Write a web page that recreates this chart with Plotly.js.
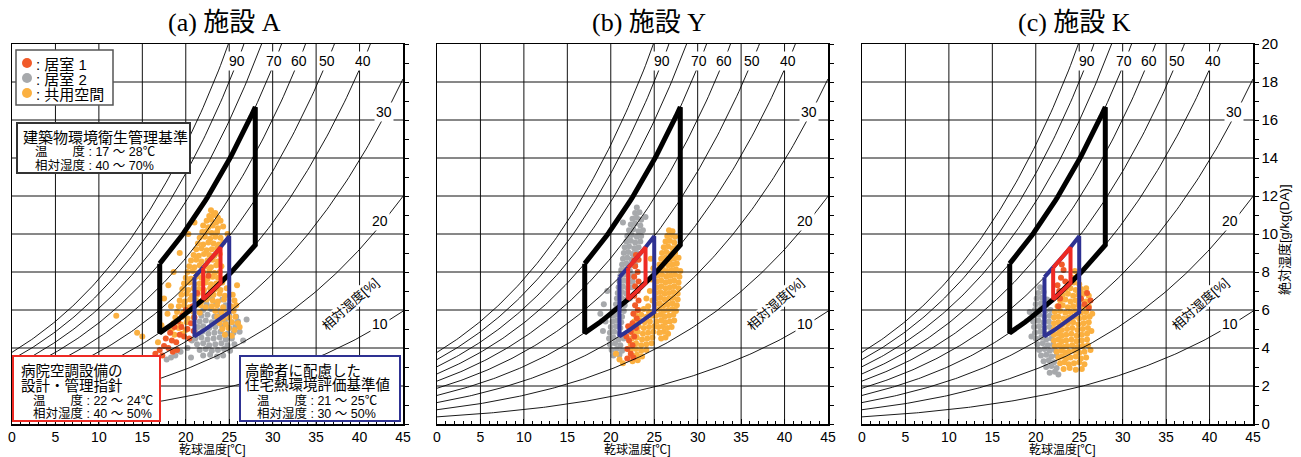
<!DOCTYPE html>
<html><head><meta charset="utf-8">
<script src="https://cdn.plot.ly/plotly-3.0.1.min.js"></script>
<style>body{margin:0;background:#fff}#chart{width:1301px;height:457px}</style>
</head><body><div id="chart"></div>
<script>
// ---------- data ----------
const panelTitles = ['(a) 施設 A', '(b) 施設 Y', '(c) 施設 K'];
const seriesNames = ['居室 1', '居室 2', '共用空間'];
const seriesColors = ['#F15A29', '#A7A9AC', '#FBB040'];
const xTitle = '乾球温度[℃]';
const yTitle = '絶対湿度[g/kg(DA)]';
const rhLevels = [10, 20, 30, 40, 50, 60, 70, 80, 90, 100];
const rhLabels = ['90', '70', '60', '50', '40', '30', '20', '10'];
const rhLabelT = [25.9, 30.1, 33.0, 36.3, 40.4, 42.8, 42.3, 42.3];
const rhLabelW = [19.1, 19.1, 19.1, 19.1, 19.1, 16.4, 10.7, 5.25];
const rhAxisLabel = '相対湿度[%]';
const gridT = [5, 10, 15, 20, 25, 30, 35, 40];
const gridW = [2, 4, 6, 8, 10, 12, 14, 16, 18];

// standards: [Tmin, Tmax, RHmin, RHmax]
const stdNames = ['建築物環境衛生管理基準', '高齢者に配慮した住宅熱環境評価基準値', '病院空調設備の設計・管理指針'];
const stdTmin = [17, 21, 22];
const stdTmax = [28, 25, 24];
const stdRHmin = [40, 30, 40];
const stdRHmax = [70, 50, 50];
const stdColors = ['#000000', '#2E3192', '#EE2A24'];
const stdWidths = [5, 4, 4];

// measured points [T(℃), W(g/kg)]
const aRoom1 = [[17.0,3.9],[17.5,4.1],[18.0,4.0],[18.4,4.4],[18.9,4.3],[19.3,4.7],[19.8,4.6],[20.2,5.0],[20.6,5.3],[18.2,4.8],[18.7,5.1],[19.1,5.4],[19.6,5.7],[20.0,6.0],[17.7,4.5],[19.5,5.1],[20.4,4.5],[21.0,5.6],[16.5,3.7],[20.8,6.2],[19.0,3.9],[17.3,3.6],[18.5,3.8],[20.9,4.9],[21.3,6.9],[22.6,7.8]];
const aRoom2 = [[23.0,6.6],[24.2,6.55],[22.4,6.3],[23.5,6.35],[24.6,6.25],[22.0,6.0],[22.9,6.05],[23.8,5.95],[24.7,6.0],[25.5,6.05],[21.8,5.7],[22.5,5.75],[23.3,5.65],[24.1,5.7],[25.0,5.75],[25.8,5.65],[21.6,5.4],[22.3,5.45],[23.0,5.35],[23.7,5.4],[24.5,5.45],[25.3,5.35],[26.0,5.4],[21.4,5.1],[22.0,5.15],[22.7,5.05],[23.4,5.1],[24.2,5.15],[25.0,5.05],[25.7,5.1],[21.2,4.8],[21.9,4.85],[22.6,4.75],[23.3,4.8],[24.0,4.85],[24.8,4.75],[25.5,4.8],[26.2,4.85],[21.1,4.5],[21.8,4.55],[22.5,4.45],[23.2,4.5],[23.9,4.55],[24.6,4.45],[25.3,4.5],[21.3,4.2],[22.0,4.25],[22.7,4.15],[23.4,4.2],[24.1,4.25],[24.8,4.15],[25.6,4.2],[21.6,3.9],[22.3,3.95],[23.0,3.85],[23.7,3.9],[24.4,3.95],[25.1,3.85],[22.0,3.6],[22.8,3.65],[23.6,3.55],[24.3,3.6],[17.8,3.4],[18.3,3.5],[18.8,3.6],[19.4,3.8],[20.2,4.0],[26.6,4.4],[20.6,3.5],[27.0,5.5],[20.7,4.4]];
const aCommon = [[22.9,11.25],[23.4,11.1],[22.7,10.95],[23.2,11.0],[23.7,10.85],[22.4,10.7],[22.9,10.75],[23.5,10.6],[24.0,10.7],[22.0,10.45],[22.6,10.35],[23.1,10.45],[23.7,10.3],[24.3,10.4],[21.9,10.1],[22.4,10.15],[23.0,10.05],[23.6,10.1],[21.6,9.8],[22.2,9.85],[22.8,9.75],[23.4,9.85],[24.0,9.8],[21.4,9.5],[22.0,9.45],[22.6,9.55],[23.2,9.5],[23.8,9.45],[24.3,9.55],[21.2,9.2],[21.8,9.25],[22.4,9.15],[23.0,9.2],[23.6,9.25],[20.9,8.9],[21.5,8.85],[22.1,8.95],[22.7,8.9],[23.3,8.85],[23.9,8.95],[20.6,8.6],[21.2,8.65],[21.8,8.55],[22.5,8.6],[23.1,8.65],[23.7,8.55],[20.4,8.3],[21.0,8.25],[21.6,8.35],[22.3,8.3],[22.9,8.25],[23.5,8.35],[24.1,8.3],[20.2,8.0],[20.8,8.05],[21.4,7.95],[22.0,8.0],[22.7,8.05],[23.3,7.95],[23.9,8.0],[20.0,7.7],[20.6,7.65],[21.2,7.75],[21.8,7.7],[22.5,7.65],[23.1,7.75],[23.7,7.7],[24.4,7.65],[19.8,7.4],[20.4,7.45],[21.0,7.35],[21.6,7.4],[22.3,7.45],[22.9,7.35],[23.5,7.4],[24.2,7.45],[19.6,7.1],[20.3,7.05],[20.9,7.15],[21.5,7.1],[22.1,7.05],[22.8,7.15],[23.4,7.1],[24.0,7.05],[24.7,7.15],[19.5,6.8],[20.1,6.85],[20.7,6.75],[21.3,6.8],[22.0,6.85],[22.6,6.75],[23.2,6.8],[23.9,6.85],[24.5,6.75],[25.4,6.8],[19.3,6.5],[19.9,6.45],[20.5,6.55],[21.2,6.5],[21.8,6.45],[22.4,6.55],[23.1,6.5],[23.7,6.45],[24.4,6.55],[25.6,6.5],[19.2,6.2],[19.8,6.25],[20.4,6.15],[21.0,6.2],[21.7,6.25],[22.3,6.15],[23.0,6.2],[23.6,6.25],[24.3,6.15],[25.2,6.2],[25.8,6.25],[19.0,5.9],[19.7,5.85],[20.3,5.95],[20.9,5.9],[21.6,5.85],[23.4,5.95],[24.1,5.9],[24.8,5.85],[25.5,5.95],[18.8,5.6],[19.6,5.65],[20.2,5.55],[20.9,5.6],[23.6,5.65],[24.3,5.55],[25.0,5.6],[25.7,5.65],[18.6,5.3],[19.4,5.25],[20.1,5.35],[23.9,5.3],[24.6,5.25],[25.3,5.35],[26.0,5.3],[18.4,5.0],[19.2,5.05],[20.0,4.95],[24.2,5.0],[24.9,5.05],[25.6,4.95],[18.7,4.7],[19.6,4.75],[24.5,4.7],[25.3,4.65],[15.0,4.6],[14.4,4.8],[12.0,5.7],[17.5,6.6],[18.0,7.3],[18.6,8.0],[19.3,9.0],[20.3,10.0],[21.0,10.6],[24.8,10.0],[25.9,7.3],[26.2,5.1],[16.8,4.3],[17.2,5.2],[17.9,5.8],[18.3,6.2]];

const bRoom1 = [[22.9,8.9],[22.7,8.6],[23.2,8.65],[22.8,8.3],[23.1,8.0],[22.7,7.75],[23.2,7.5],[22.8,7.25],[23.1,7.0],[22.7,6.75],[23.2,6.5],[22.8,6.25],[23.1,6.0],[22.6,5.8],[23.0,5.55],[22.5,5.3],[22.9,5.05],[22.3,4.85],[22.7,4.6],[22.1,4.4],[22.5,4.15],[21.9,3.95],[22.3,3.7],[21.9,3.45],[22.6,3.5],[21.8,4.6],[22.0,5.15]];
const bRoom2 = [[23.0,11.4],[22.8,11.1],[23.3,11.15],[22.5,10.8],[23.0,10.85],[23.5,10.75],[22.3,10.5],[22.8,10.55],[23.4,10.45],[22.1,10.2],[22.6,10.25],[23.2,10.15],[23.7,10.2],[21.9,9.9],[22.4,9.95],[23.0,9.85],[23.5,9.9],[21.8,9.6],[22.3,9.65],[22.8,9.55],[23.4,9.6],[21.6,9.3],[22.1,9.35],[22.7,9.25],[23.2,9.3],[21.5,9.0],[22.0,9.05],[22.5,8.95],[23.0,9.0],[21.4,8.7],[21.9,8.75],[22.4,8.65],[22.9,8.7],[21.3,8.4],[21.8,8.45],[22.3,8.35],[22.8,8.4],[21.2,8.1],[21.7,8.15],[22.2,8.05],[21.1,7.8],[21.6,7.85],[22.1,7.75],[22.6,7.8],[21.0,7.5],[21.5,7.55],[22.0,7.45],[22.5,7.5],[20.9,7.2],[21.4,7.25],[21.9,7.15],[22.4,7.2],[20.8,6.9],[21.3,6.95],[21.8,6.85],[20.7,6.6],[21.2,6.65],[21.7,6.55],[22.2,6.6],[20.6,6.3],[21.1,6.35],[21.6,6.25],[20.5,6.0],[21.0,6.05],[21.5,5.95],[20.3,5.7],[20.8,5.75],[21.3,5.65],[20.2,5.4],[20.7,5.45],[21.2,5.35],[20.0,5.1],[20.6,5.15],[21.1,5.05],[19.9,4.8],[20.4,4.85],[21.0,4.75],[19.8,4.5],[20.3,4.55],[20.9,4.45],[21.5,4.5],[19.9,4.2],[20.5,4.25],[21.1,4.15],[20.1,3.9],[20.7,3.95],[21.3,3.85],[20.3,3.6],[21.0,3.65],[19.2,6.3],[19.4,5.4],[19.1,4.9],[18.8,5.8],[19.6,7.0],[24.0,10.9],[21.4,10.6]];
const bCommon = [[26.7,10.2],[27.1,10.15],[26.5,9.9],[27.0,9.95],[27.4,9.85],[26.3,9.6],[26.8,9.65],[27.3,9.55],[26.1,9.3],[26.6,9.35],[27.1,9.25],[27.6,9.3],[25.9,9.0],[26.4,9.05],[26.9,8.95],[27.4,9.0],[25.8,8.7],[26.3,8.75],[26.8,8.65],[27.3,8.7],[27.8,8.75],[25.6,8.4],[26.1,8.45],[26.6,8.35],[27.1,8.4],[27.6,8.45],[25.5,8.1],[26.0,8.15],[26.5,8.05],[27.0,8.1],[27.5,8.15],[28.0,8.05],[25.4,7.8],[25.9,7.85],[26.4,7.75],[26.9,7.8],[27.4,7.85],[27.9,7.75],[25.3,7.5],[25.8,7.55],[26.3,7.45],[26.8,7.5],[27.3,7.55],[27.8,7.45],[25.3,7.2],[25.8,7.25],[26.3,7.15],[26.8,7.2],[27.3,7.25],[27.8,7.15],[25.2,6.9],[25.7,6.95],[26.2,6.85],[26.7,6.9],[27.2,6.95],[27.7,6.85],[25.2,6.6],[25.7,6.65],[26.2,6.55],[26.7,6.6],[27.2,6.65],[27.7,6.55],[25.1,6.3],[25.6,6.35],[26.1,6.25],[26.6,6.3],[27.1,6.35],[27.6,6.25],[25.1,6.0],[25.6,6.05],[26.1,5.95],[26.6,6.0],[27.1,6.05],[27.5,5.95],[25.2,5.7],[25.7,5.75],[26.2,5.65],[26.7,5.7],[27.2,5.75],[25.3,5.4],[25.8,5.45],[26.3,5.35],[26.8,5.4],[27.3,5.45],[25.5,5.1],[26.0,5.15],[26.5,5.05],[27.0,5.1],[25.6,4.8],[26.1,4.85],[26.6,4.75],[25.8,4.5],[26.3,4.55],[23.2,6.0],[23.8,6.05],[22.9,5.7],[23.5,5.75],[24.1,5.65],[24.7,5.7],[22.7,5.4],[23.3,5.45],[23.9,5.35],[24.5,5.4],[22.6,5.1],[23.2,5.15],[23.8,5.05],[24.4,5.1],[25.0,5.15],[22.5,4.8],[23.1,4.85],[23.7,4.75],[24.3,4.8],[24.9,4.85],[22.4,4.5],[23.0,4.55],[23.6,4.45],[24.2,4.5],[24.8,4.55],[22.3,4.2],[22.9,4.25],[23.5,4.15],[24.1,4.2],[24.7,4.25],[22.3,3.9],[22.9,3.95],[23.5,3.85],[24.1,3.9],[22.4,3.6],[23.0,3.65],[23.6,3.55],[22.5,3.3],[23.1,3.35],[21.0,3.4],[21.4,3.2],[20.6,3.7],[24.5,7.0],[24.8,6.5],[24.3,6.2],[24.7,7.6],[24.4,5.9],[24.1,6.6],[24.9,8.2],[24.6,8.7]];

const cRoom1 = [[22.5,7.3],[22.9,7.7],[23.2,8.1],[22.7,7.0],[23.4,7.5],[22.8,6.6],[25.2,6.6],[25.6,6.3],[25.9,6.9],[26.1,6.1],[23.0,8.4],[22.6,6.2],[26.3,6.5]];
const cRoom2 = [[20.5,7.2],[20.3,6.9],[20.9,6.95],[20.1,6.6],[20.7,6.65],[21.3,6.55],[20.0,6.3],[20.6,6.35],[21.2,6.25],[19.9,6.0],[20.5,6.05],[21.1,5.95],[21.7,6.0],[19.8,5.7],[20.4,5.75],[21.0,5.65],[21.6,5.7],[19.7,5.4],[20.3,5.45],[20.9,5.35],[21.5,5.4],[19.8,5.1],[20.4,5.15],[21.0,5.05],[21.6,5.1],[19.9,4.8],[20.5,4.85],[21.1,4.75],[21.7,4.8],[20.0,4.5],[20.6,4.55],[21.2,4.45],[21.8,4.5],[20.2,4.2],[20.8,4.25],[21.4,4.15],[22.0,4.2],[20.4,3.9],[21.0,3.95],[21.6,3.85],[22.2,3.9],[20.6,3.6],[21.2,3.65],[21.8,3.55],[22.4,3.6],[20.9,3.3],[21.5,3.35],[22.1,3.25],[21.2,3.0],[21.8,3.05],[22.4,2.95],[21.6,2.7],[22.2,2.75],[19.3,5.9],[19.5,4.6],[22.6,2.6]];
const cCommon = [[24.5,8.05],[24.2,7.7],[24.8,7.75],[23.8,7.4],[24.4,7.45],[25.0,7.35],[23.4,7.1],[24.0,7.15],[24.6,7.05],[25.2,7.1],[25.8,7.15],[23.1,6.8],[23.7,6.85],[24.3,6.75],[24.9,6.8],[25.5,6.85],[26.1,6.75],[22.8,6.5],[23.4,6.55],[24.0,6.45],[24.6,6.5],[25.2,6.55],[25.8,6.45],[22.5,6.2],[23.1,6.25],[23.7,6.15],[24.3,6.2],[24.9,6.25],[25.5,6.15],[26.1,6.2],[22.2,5.9],[22.8,5.95],[23.4,5.85],[24.0,5.9],[24.6,5.95],[25.2,5.85],[25.8,5.9],[22.1,5.6],[22.6,5.65],[23.2,5.55],[23.8,5.6],[24.4,5.65],[25.0,5.55],[25.6,5.6],[26.2,5.65],[22.1,5.3],[22.6,5.35],[23.1,5.25],[23.7,5.3],[24.3,5.35],[24.9,5.25],[25.5,5.3],[26.1,5.35],[22.1,5.0],[22.6,5.05],[23.0,4.95],[23.6,5.0],[24.2,5.05],[24.8,4.95],[25.4,5.0],[26.0,5.05],[22.1,4.7],[22.6,4.75],[23.0,4.65],[23.5,4.7],[24.1,4.75],[24.7,4.65],[25.3,4.7],[25.9,4.75],[22.1,4.4],[22.6,4.45],[23.0,4.35],[23.5,4.4],[24.1,4.45],[24.7,4.35],[25.3,4.4],[25.9,4.45],[22.2,4.1],[22.7,4.15],[23.2,4.05],[23.6,4.1],[24.2,4.15],[24.8,4.05],[25.4,4.1],[26.0,4.15],[22.4,3.8],[22.9,3.85],[23.4,3.75],[23.8,3.8],[24.4,3.85],[25.0,3.75],[25.6,3.8],[22.6,3.5],[23.0,3.55],[23.5,3.45],[24.0,3.5],[24.6,3.55],[25.2,3.45],[25.8,3.5],[22.8,3.2],[23.3,3.25],[23.8,3.15],[24.4,3.2],[25.0,3.25],[25.6,3.15],[23.2,2.9],[23.9,2.95],[24.6,2.85],[25.3,2.9],[26.5,5.8],[26.4,4.9],[26.3,3.9]];

// per panel: [居室1, 居室2, 共用空間]
const panelData = [[aRoom1, aRoom2, aCommon], [bRoom1, bRoom2, bCommon], [cRoom1, cRoom2, cCommon]];
// draw order of series within each panel (indices into seriesNames)
const drawOrder = [1, 2, 0];

// ---------- psychrometric conversion (RH, T) -> absolute humidity ----------
const P_ATM = 101.325;
function absHum(T, rh) {
  const ps = 0.61078 * Math.exp(17.27 * T / (T + 237.3));
  const pw = rh / 100 * ps;
  return 622 * pw / (P_ATM - pw);
}
function tempSamples(t0, t1, step) { const a = []; for (let t = t0; t <= t1 + 1e-9; t += step) a.push(+t.toFixed(3)); return a; }
const curveT = tempSamples(0, 45, 0.25);

// ---------- layout geometry (pixels) ----------
const W_PX = 1301, H_PX = 457;
const panelLeft = [12, 437, 862], panelWidth = 391;
const plotTop = 44, plotBottom = 424;
const px = x => x / W_PX, py = y => 1 - y / H_PX;

const traces = [];
const cjk = 'Liberation Sans, Arial, Noto Sans CJK JP, sans-serif';
const layout = {
  width: W_PX, height: H_PX, margin: {l: 0, r: 0, t: 0, b: 0},
  paper_bgcolor: '#fff', plot_bgcolor: '#fff', showlegend: false,
  font: {family: cjk, color: '#000'},
  shapes: [], annotations: []
};
function paperNote(x, y, text, opts) {
  return Object.assign({xref: 'paper', yref: 'paper', x: px(x), y: py(y), text: text, showarrow: false,
    xanchor: 'center', yanchor: 'middle'}, opts);
}

for (let p = 0; p < 3; p++) {
  const s = p === 0 ? '' : String(p + 1);
  const xa = 'x' + s, ya = 'y' + s;
  layout['xaxis' + s] = {
    domain: [px(panelLeft[p]), px(panelLeft[p] + panelWidth)], range: [0, 45], anchor: ya,
    tick0: 0, dtick: 5, showgrid: false, zeroline: false, showline: true, mirror: true,
    linecolor: '#000', linewidth: 1.5, ticks: 'inside', ticklen: 5, tickcolor: '#000', tickwidth: 1,
    minor: {dtick: 1, ticks: 'inside', ticklen: 3, tickcolor: '#000', showgrid: false},
    tickfont: {size: 14, color: '#000'}, fixedrange: true
  };
  layout['yaxis' + s] = {
    domain: [py(plotBottom), py(plotTop)], range: [0, 20], anchor: xa, side: 'right',
    tick0: 0, dtick: 2, showgrid: false, zeroline: false, showline: true, mirror: true,
    linecolor: '#000', linewidth: 1.5, ticks: 'outside', ticklen: 4, tickcolor: '#000',
    minor: {dtick: 1, ticks: 'outside', ticklen: 4, tickcolor: '#000', showgrid: false},
    showticklabels: p === 2, tickfont: {size: 15, color: '#000'}, fixedrange: true
  };

  // measured points
  drawOrder.forEach(k => {
    const pts = panelData[p][k];
    traces.push({
      type: 'scatter', mode: 'markers', xaxis: xa, yaxis: ya, name: seriesNames[k],
      x: pts.map(d => d[0]), y: pts.map(d => d[1]),
      marker: {color: seriesColors[k], size: 6, line: {width: 0}}, hoverinfo: 'skip'
    });
  });

  // grid lines (drawn over the points, as in the reference)
  const gx = [], gy = [];
  gridT.forEach(t => { gx.push(t, t, null); gy.push(0, 20, null); });
  traces.push({type: 'scatter', mode: 'lines', xaxis: xa, yaxis: ya, x: gx, y: gy,
    line: {color: '#111', width: 1}, hoverinfo: 'skip'});
  const hx = [], hy = [];
  gridW.forEach(w => { hx.push(0, 45, null); hy.push(w, w, null); });
  traces.push({type: 'scatter', mode: 'lines', xaxis: xa, yaxis: ya, x: hx, y: hy,
    line: {color: '#111', width: 1}, hoverinfo: 'skip'});

  // relative-humidity curves
  rhLevels.forEach(rh => {
    traces.push({type: 'scatter', mode: 'lines', xaxis: xa, yaxis: ya,
      x: curveT, y: curveT.map(T => absHum(T, rh)),
      line: {color: '#000', width: 0.9}, hoverinfo: 'skip'});
  });

  // standard ranges
  stdNames.forEach((nm, i) => {
    const top = tempSamples(stdTmin[i], stdTmax[i], 0.25);
    const bot = top.slice().reverse();
    const xs = top.concat(bot, [top[0]]);
    const ys = top.map(T => absHum(T, stdRHmax[i])).concat(bot.map(T => absHum(T, stdRHmin[i])), [absHum(top[0], stdRHmax[i])]);
    traces.push({type: 'scatter', mode: 'lines', xaxis: xa, yaxis: ya, name: nm, x: xs, y: ys,
      line: {color: stdColors[i], width: stdWidths[i]}, hoverinfo: 'skip'});
  });

  // RH labels
  rhLabels.forEach((lb, i) => {
    layout.annotations.push({xref: xa, yref: ya, x: rhLabelT[i], y: rhLabelW[i], text: lb,
      xanchor: 'center', yanchor: 'middle',
      showarrow: false, bgcolor: '#fff', borderpad: 1, font: {size: 14, color: '#000', family: cjk}});
  });
  layout.annotations.push({xref: xa, yref: ya, x: 38.9, y: 6.3, text: rhAxisLabel, textangle: -42,
    xanchor: 'center', yanchor: 'middle',
    showarrow: false, bgcolor: '#fff', borderpad: 0, font: {size: 13, color: '#000', family: cjk}});

  // panel title and x title
  layout.annotations.push(paperNote(panelLeft[p] + 212, 22, panelTitles[p],
    {font: {size: 26, color: '#000', family: 'Liberation Serif, Times New Roman, Noto Sans CJK JP, serif'}}));
  layout.annotations.push(paperNote(panelLeft[p] + 200, 449, xTitle, {font: {size: 12, color: '#000', family: cjk}}));
}

// right y-axis title
layout.annotations.push(paperNote(1285, 240, yTitle, {textangle: -90, font: {size: 13, color: '#000', family: cjk}}));

// legend (panel a)
layout.shapes.push({type: 'rect', xref: 'paper', yref: 'paper', x0: px(16), x1: px(113), y0: py(105), y1: py(50),
  fillcolor: '#fff', line: {color: '#555', width: 1.5}, layer: 'above'});
seriesNames.forEach((nm, k) => {
  const cy = 63 + 15 * k;
  layout.shapes.push({type: 'circle', xref: 'paper', yref: 'paper', x0: px(22), x1: px(32), y0: py(cy + 5), y1: py(cy - 5),
    fillcolor: seriesColors[k], line: {width: 0}, layer: 'above'});
  layout.annotations.push(paperNote(34, cy + 1, ': ' + nm,
    {xanchor: 'left', font: {size: 15, color: '#000', family: cjk}}));
});

// explanation boxes
const boxes = [
  {x0: 17, x1: 190, y0: 123, y1: 173, color: '#333', lines: [
    {t: stdNames[0], x: 21, y: 137, s: 15},
    {t: '温　　度 : ' + stdTmin[0] + ' ～ ' + stdTmax[0] + '℃', x: 33, y: 151, s: 12.5},
    {t: '相対湿度 : ' + stdRHmin[0] + ' ～ ' + stdRHmax[0] + '%', x: 33, y: 165, s: 12.5}]},
  {x0: 13, x1: 160, y0: 356, y1: 421, color: stdColors[2], lines: [
    {t: '病院空調設備の', x: 19, y: 371, s: 14.5},
    {t: '設計・管理指針', x: 19, y: 385, s: 14.5},
    {t: '温　　度 : ' + stdTmin[2] + ' ～ ' + stdTmax[2] + '℃', x: 31, y: 400, s: 12.5},
    {t: '相対湿度 : ' + stdRHmin[2] + ' ～ ' + stdRHmax[2] + '%', x: 31, y: 413, s: 12.5}]},
  {x0: 240, x1: 400, y0: 356, y1: 421, color: stdColors[1], lines: [
    {t: '高齢者に配慮した', x: 243, y: 371, s: 14.5},
    {t: '住宅熱環境評価基準値', x: 243, y: 385, s: 14.5},
    {t: '温　　度 : ' + stdTmin[1] + ' ～ ' + stdTmax[1] + '℃', x: 255, y: 400, s: 12.5},
    {t: '相対湿度 : ' + stdRHmin[1] + ' ～ ' + stdRHmax[1] + '%', x: 255, y: 413, s: 12.5}]}
];
boxes.forEach(b => {
  layout.shapes.push({type: 'rect', xref: 'paper', yref: 'paper', x0: px(b.x0), x1: px(b.x1), y0: py(b.y1), y1: py(b.y0),
    fillcolor: '#fff', line: {color: b.color, width: 2}, layer: 'above'});
  b.lines.forEach(l => layout.annotations.push(paperNote(l.x, l.y, l.t,
    {xanchor: 'left', font: {size: l.s, color: '#000', family: cjk}})));
});

Plotly.newPlot('chart', traces, layout, {displayModeBar: false, staticPlot: true});
</script></body></html>
